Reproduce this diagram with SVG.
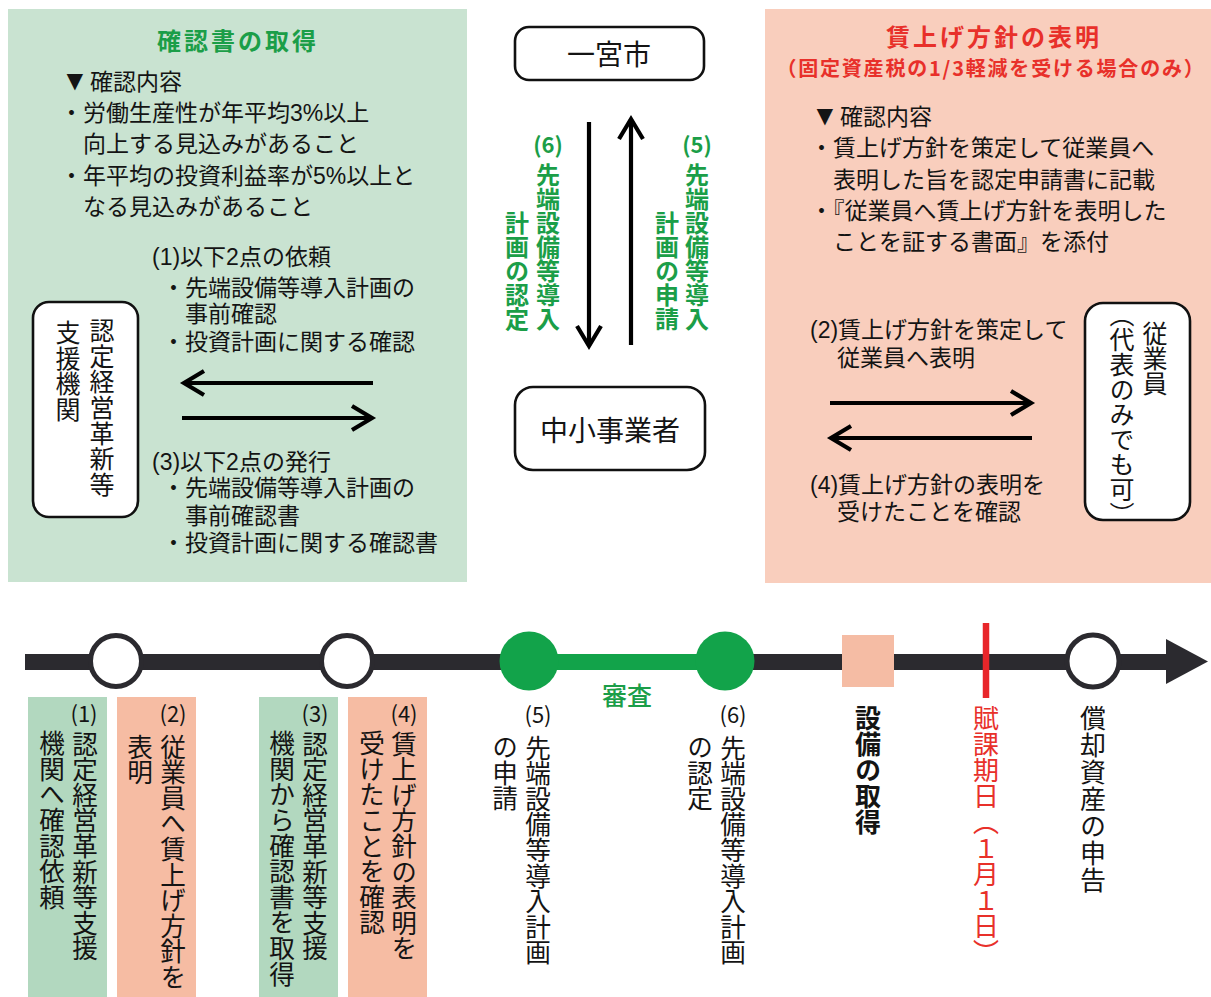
<svg xmlns="http://www.w3.org/2000/svg" width="1211" height="997" viewBox="0 0 1211 997">
<defs>
<style>
.t{font-family:"Noto Sans CJK JP","Noto Sans",sans-serif;font-size:23px;fill:#141414}
.h{font-family:"Liberation Sans","Noto Sans CJK JP",sans-serif}
.v{writing-mode:vertical-rl}
.g{fill:#1b9e48;font-weight:700}
.r{fill:#e8302a}
.b{font-weight:700}
.tri{font-size:28px}
.node{fill:#fff;stroke:#111;stroke-width:2.6}
.arr{stroke:#000;stroke-width:4.2;fill:none;marker-end:url(#chev)}
.lab{font-size:25.6px}
.num{font-size:22px;text-anchor:middle}
</style>
<marker id="chev" markerUnits="userSpaceOnUse" viewBox="0 0 24 30" refX="20" refY="15" markerWidth="24" markerHeight="30" orient="auto" overflow="visible">
<path d="M0,3 L20,15 L0,27" fill="none" stroke="#000" stroke-width="4.2"/>
</marker>
</defs>
<rect width="1211" height="997" fill="#fff"/>

<g id="panel-kakuninsho">
<rect x="8" y="9" width="459" height="573" fill="#c9e3d1"/>
<text class="t g" x="238" y="50" text-anchor="middle" style="font-size:24px;letter-spacing:3px">確認書の取得</text>
<text class="t h" x="61" y="90"><tspan class="tri">▼</tspan><tspan x="90">確認内容</tspan></text>
<text class="t h" x="60" y="121">・労働生産性が年平均3%以上</text>
<text class="t h" x="83" y="152">向上する見込みがあること</text>
<text class="t h" x="60" y="184">・年平均の投資利益率が5%以上と</text>
<text class="t h" x="83" y="215">なる見込みがあること</text>
<text class="t h" x="152" y="265">(1)以下2点の依頼</text>
<text class="t h" x="162" y="296">・先端設備等導入計画の</text>
<text class="t h" x="185" y="322">事前確認</text>
<text class="t h" x="162" y="350">・投資計画に関する確認</text>
<text class="t h" x="152" y="470">(3)以下2点の発行</text>
<text class="t h" x="162" y="496">・先端設備等導入計画の</text>
<text class="t h" x="185" y="524">事前確認書</text>
<text class="t h" x="162" y="551">・投資計画に関する確認書</text>
</g>

<g id="panel-chinage">
<rect x="765" y="9" width="446" height="574" fill="#f9cebd"/>
<text class="t r b" x="994" y="46" text-anchor="middle" style="font-size:24px;letter-spacing:3px">賃上げ方針の表明</text>
<text class="t r b" x="991" y="76" text-anchor="middle" style="font-size:20px;letter-spacing:1.8px">（固定資産税の1/3軽減を受ける場合のみ）</text>
<text class="t h" x="811" y="125"><tspan class="tri">▼</tspan><tspan x="840">確認内容</tspan></text>
<text class="t h" x="810" y="156">・賃上げ方針を策定して従業員へ</text>
<text class="t h" x="833" y="188">表明した旨を認定申請書に記載</text>
<text class="t h" x="810" y="219">・『従業員へ賃上げ方針を表明した</text>
<text class="t h" x="833" y="250">ことを証する書面』を添付</text>
<text class="t h" x="810" y="338">(2)賃上げ方針を策定して</text>
<text class="t h" x="837" y="366">従業員へ表明</text>
<text class="t h" x="810" y="493">(4)賃上げ方針の表明を</text>
<text class="t h" x="837" y="520">受けたことを確認</text>
</g>

<g id="node-ichinomiya">
<rect class="node" x="515" y="27" width="189" height="53" rx="14"/>
<text class="t" x="609" y="65" text-anchor="middle" style="font-size:28px">一宮市</text>
</g>

<g id="node-chusho">
<rect class="node" x="515" y="387" width="190" height="83" rx="18"/>
<text class="t" x="610" y="441" text-anchor="middle" style="font-size:28px">中小事業者</text>
</g>

<g id="node-shienkikan">
<rect class="node" x="33" y="302" width="105" height="215" rx="16"/>
<text class="t v" style="font-size:25px;letter-spacing:0.7px"><tspan x="102" y="318">認定経営革新等</tspan><tspan x="68" y="320">支援機関</tspan></text>
</g>

<g id="node-jugyoin">
<rect class="node" x="1085" y="303" width="105" height="217" rx="18"/>
<text class="t v" style="font-size:25px"><tspan x="1155" y="321">従業員</tspan><tspan x="1122" y="302">（代表のみでも可）</tspan></text>
</g>

<g id="labels-center">
<text class="t g num" x="548" y="153">(6)</text>
<text class="t g v" style="font-size:24px"><tspan x="548" y="163">先端設備等導入</tspan><tspan x="517" y="211">計画の認定</tspan></text>
<text class="t g num" x="697" y="153">(5)</text>
<text class="t g v" style="font-size:24px"><tspan x="697" y="163">先端設備等導入</tspan><tspan x="667" y="211">計画の申請</tspan></text>
</g>

<g id="connectors">
<line class="arr" x1="373" y1="383" x2="184" y2="383"/>
<line class="arr" x1="182" y1="418" x2="372" y2="418"/>
<line class="arr" x1="589" y1="122" x2="589" y2="346"/>
<line class="arr" x1="631" y1="345" x2="631" y2="119"/>
<line class="arr" x1="830" y1="403" x2="1031" y2="403"/>
<line class="arr" x1="1032" y1="438" x2="831" y2="438"/>
</g>

<g id="timeline">
<rect x="25" y="654" width="1145" height="16" fill="#2b2a2f"/>
<polygon points="1166,639 1208,661.5 1166,684" fill="#2b2a2f"/>
<rect x="529" y="654" width="196" height="16" fill="#12a34a"/>
<circle cx="116" cy="661" r="25.5" fill="#fff" stroke="#2b2a2f" stroke-width="5"/>
<circle cx="347" cy="661" r="25.5" fill="#fff" stroke="#2b2a2f" stroke-width="5"/>
<circle cx="529" cy="661" r="29.5" fill="#12a34a"/>
<circle cx="725" cy="661" r="29.5" fill="#12a34a"/>
<rect x="842" y="635" width="52" height="52" fill="#f5bca4"/>
<line x1="986" y1="623" x2="986" y2="698" stroke="#e8262a" stroke-width="6.5"/>
<circle cx="1093" cy="661" r="26" fill="#fff" stroke="#2b2a2f" stroke-width="5"/>
<text class="t g" x="627" y="705" text-anchor="middle" style="font-size:25px;font-weight:500">審査</text>
</g>

<g id="step-1">
<rect x="28" y="697" width="79" height="300" fill="#b2d8bf"/>
<text class="t num" x="84" y="722">(1)</text>
<text class="t v lab"><tspan x="85" y="731">認定経営革新等支援</tspan><tspan x="52" y="731">機関へ確認依頼</tspan></text>
</g>
<g id="step-2">
<rect x="117" y="697" width="79" height="300" fill="#f6bca3"/>
<text class="t num" x="173" y="722">(2)</text>
<text class="t v lab"><tspan x="173" y="734">従業員へ賃上げ方針を</tspan><tspan x="140" y="734">表明</tspan></text>
</g>
<g id="step-3">
<rect x="259" y="697" width="79" height="300" fill="#b2d8bf"/>
<text class="t num" x="315" y="722">(3)</text>
<text class="t v lab"><tspan x="315" y="731">認定経営革新等支援</tspan><tspan x="282" y="731">機関から確認書を取得</tspan></text>
</g>
<g id="step-4">
<rect x="348" y="697" width="79" height="300" fill="#f6bca3"/>
<text class="t num" x="404" y="722">(4)</text>
<text class="t v lab"><tspan x="404" y="731">賃上げ方針の表明を</tspan><tspan x="372" y="731">受けたことを確認</tspan></text>
</g>
<g id="step-5">
<text class="t num" x="538" y="723">(5)</text>
<text class="t v lab"><tspan x="538" y="735">先端設備等導入計画</tspan><tspan x="505" y="735">の申請</tspan></text>
</g>
<g id="step-6">
<text class="t num" x="733" y="723">(6)</text>
<text class="t v lab"><tspan x="733" y="735">先端設備等導入計画</tspan><tspan x="700" y="735">の認定</tspan></text>
</g>
<g id="step-setsubi">
<text class="t v b" x="868" y="705" style="font-size:26px">設備の取得</text>
</g>
<g id="step-fukakijitsu">
<text class="t v r" x="986" y="705" style="font-size:26px">賦課期日（１月１日）</text>
</g>
<g id="step-shinkoku">
<text class="t v" x="1093" y="705" style="font-size:26px;letter-spacing:1px">償却資産の申告</text>
</g>
</svg>
